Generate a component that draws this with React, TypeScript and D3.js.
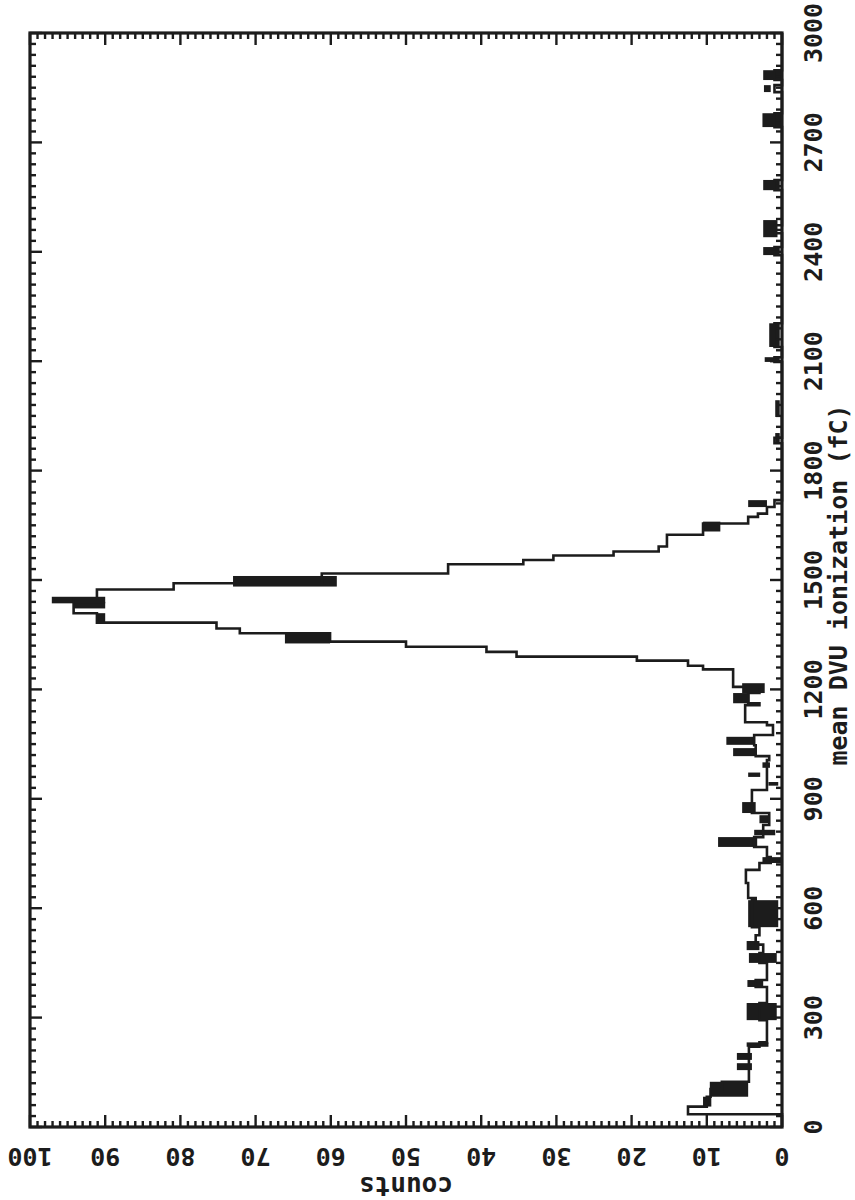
import React from "react";
import * as d3 from "d3";

// Histogram outline: each segment starts at segStart (fC) with count segCount, ending at next start
const segStart = [0, 35, 56, 83, 104, 124, 220, 232, 293, 340, 384, 403, 450, 477, 500, 526, 548, 622, 628, 669, 705, 724, 740, 768, 795, 828, 861, 891, 924, 951, 979, 1006, 1017, 1047, 1075, 1102, 1110, 1157, 1162, 1190, 1207, 1255, 1265, 1279, 1290, 1303, 1317, 1331, 1354, 1367, 1383, 1409, 1450, 1474, 1491, 1518, 1543, 1555, 1567, 1578, 1592, 1624, 1655, 1673, 1682, 1700, 1719, 1875, 1890, 2098, 2111, 2139, 2204, 2391, 2413, 2451, 2473, 2569, 2597, 2742, 2780, 2838, 2857, 2871, 2898, 3000];
const segCount = [0, 12.5, 10, 9.5, 8, 4.4, 3, 2, 3, 2, 3.5, 2, 3, 2.5, 3.5, 3, 4, 3.5, 4.5, 4.8, 3, 1.5, 2, 3.7, 2.5, 1.7, 4, 4, 2, 2, 2, 1.7, 3.5, 3.7, 1.2, 2, 4.9, 3, 4.5, 3, 6.5, 10.5, 12.5, 19.3, 35.3, 39.3, 50, 60.1, 72.1, 75.2, 91.1, 94.2, 91.1, 80.9, 61.2, 44.4, 34.4, 30.4, 22.4, 16.4, 15.3, 10.5, 4.5, 3.2, 2, 1, 0, 1, 0, 1, 0, 1, 0, 1, 0, 1, 0, 1, 0, 1, 0, 1, 0, 1, 0, 0];

// Black bands: fC range [bandFrom, bandTo], count range [bandLo, bandHi]
const bandFrom = [56, 83, 156, 184, 220, 293, 384, 450, 485, 548, 724, 768, 800, 833, 861, 936, 960, 985, 1017, 1048, 1162, 1190, 1326, 1383, 1422, 1436, 1482, 1633, 1700, 1875, 1947, 2098, 2139, 2391, 2440, 2569, 2742, 2838, 2871];
const bandTo = [83, 124, 175, 203, 232, 340, 403, 477, 510, 622, 740, 795, 815, 855, 891, 946, 972, 1000, 1039, 1070, 1190, 1217, 1354, 1409, 1440, 1454, 1511, 1660, 1719, 1903, 1993, 2111, 2204, 2413, 2487, 2597, 2780, 2857, 2898];
const bandLo = [9.4, 4.5, 4, 4, 1.8, 0.7, 2.5, 0.7, 3, 0.5, 0, 3.3, 0.9, 1.7, 3.5, 0.5, 2.9, 1.6, 3.4, 3.8, 4.3, 2.3, 60.1, 90, 90, 90, 59.2, 8.2, 2, 0.3, 0.3, 0.3, 0.3, 0.3, 0.6, 0.3, 0, 1.5, 0];
const bandHi = [10.5, 9.6, 6, 6, 4.7, 4.7, 4.6, 4.4, 4.7, 4.5, 2.6, 8.5, 3.7, 3, 5.3, 1.8, 4.5, 2.6, 6.5, 7.4, 6.5, 5.3, 66.1, 91, 94.2, 97.1, 73, 10.5, 4.5, 0.9, 0.9, 2.3, 1.7, 2.5, 2.5, 2.5, 2.6, 2.4, 2.5];

const fcTicks = [0, 300, 600, 900, 1200, 1500, 1800, 2100, 2400, 2700, 3000];
const countTicks = [0, 10, 20, 30, 40, 50, 60, 70, 80, 90, 100];

const INK = "#1c1c1c";
const FONT = "'DejaVu Sans Mono', monospace";

export default function App() {
  // counts run horizontally (0 at right, 100 at left); fC runs vertically (0 at bottom)
  const cx = d3.scaleLinear().domain([0, 100]).range([782, 30]);
  const fy = d3.scaleLinear().domain([0, 3000]).range([1127, 33]);

  const pts: [number, number][] = [];
  for (let i = 0; i < segStart.length - 1; i++) {
    pts.push([cx(segCount[i]), fy(segStart[i])]);
    pts.push([cx(segCount[i]), fy(segStart[i + 1])]);
  }
  const outline = d3.line()(pts) || "";

  const minorCounts = d3.range(0, 101, 1);
  const minorFc = d3.range(0, 3001, 30);

  const left = cx(100), right = cx(0), top = fy(3000), bottom = fy(0);

  return (
    <svg width={855} height={1200} style={{ position: "absolute", left: 0, top: 0, background: "#fff" }}>
      <rect x={0} y={0} width={855} height={1200} fill="#fff" />
      {/* bands */}
      {bandFrom.map((f, i) => (
        <rect key={"b" + i} x={cx(bandHi[i])} y={fy(bandTo[i])}
          width={cx(bandLo[i]) - cx(bandHi[i])} height={fy(bandFrom[i]) - fy(bandTo[i])} fill={INK} />
      ))}
      <path d={outline} fill="none" stroke={INK} strokeWidth={2.6} />
      {/* ticks on top and bottom frames (counts) */}
      {minorCounts.map((c) => {
        const len = c % 10 === 0 ? 12 : 6;
        return (
          <g key={"ct" + c}>
            <line x1={cx(c)} x2={cx(c)} y1={top} y2={top + len} stroke={INK} strokeWidth={2.4} />
            <line x1={cx(c)} x2={cx(c)} y1={bottom} y2={bottom - len} stroke={INK} strokeWidth={2.4} />
          </g>
        );
      })}
      {/* ticks on left and right frames (fC) */}
      {minorFc.map((f) => {
        const len = f % 300 === 0 ? 12 : 6;
        return (
          <g key={"ft" + f}>
            <line x1={left} x2={left + len} y1={fy(f)} y2={fy(f)} stroke={INK} strokeWidth={2.4} />
            <line x1={right} x2={right - len} y1={fy(f)} y2={fy(f)} stroke={INK} strokeWidth={2.4} />
          </g>
        );
      })}
      <rect x={left} y={top} width={right - left} height={bottom - top} fill="none" stroke={INK} strokeWidth={3.2} />
      {/* fC tick labels, rotated */}
      {fcTicks.map((f) => (
        <text key={"fl" + f} transform={`translate(822,${fy(f)}) rotate(-90)`} textAnchor="middle"
          fontFamily={FONT} fontWeight="bold" fontSize={25} fill={INK}>{f}</text>
      ))}
      {/* count tick labels, upside down */}
      {countTicks.map((c) => (
        <text key={"cl" + c} transform={`translate(${cx(c)},1148) rotate(180)`} textAnchor="middle"
          fontFamily={FONT} fontWeight="bold" fontSize={25} fill={INK}>{c}</text>
      ))}
      <text transform={`translate(${(left + right) / 2},1177) rotate(180)`} textAnchor="middle"
        fontFamily={FONT} fontWeight="bold" fontSize={26} fill={INK}>counts</text>
      <text transform={`translate(847,585) rotate(-90)`} textAnchor="middle"
        fontFamily={FONT} fontWeight="bold" fontSize={25} fill={INK}>mean DVU ionization (fC)</text>
    </svg>
  );
}
